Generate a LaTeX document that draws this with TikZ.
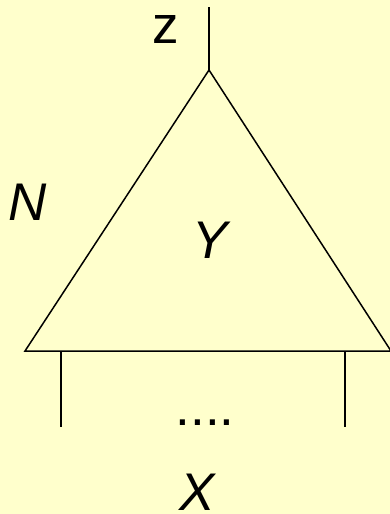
\documentclass[tikz,border=0pt]{standalone}
\usepackage{fontspec}
\setmainfont{Liberation Sans}
\usetikzlibrary{positioning}

\begin{document}
\begin{tikzpicture}[
    x=1pt, y=-1pt,
    edge/.style={line width=1.5pt, black},
    label/.style={anchor=base, inner sep=0pt, font=\fontsize{53}{60}\selectfont}
]

    \fill[yellow!25!white, fill={rgb,255:red,255; green,255; blue,204}] (0,0) rectangle (390,514);
    \useasboundingbox (0,0) rectangle (390,514);

    \coordinate (top) at (209,7);
    \coordinate (apex) at (209,70);
    \coordinate (bl) at (25,351);
    \coordinate (br) at (391,351);
    \coordinate (l1) at (61,351);
    \coordinate (l1e) at (61,427);
    \coordinate (l2) at (345,351);
    \coordinate (l2e) at (345,427);

    \draw[edge] (bl) -- (apex) -- (br) -- cycle;
    \draw[edge] (apex) -- (top);
    \draw[edge] (l1) -- (l1e);
    \draw[edge] (l2) -- (l2e);

    \node[label] (z) at (166,43) {z};
    \node[label] (n) at (28,220) {\itshape N};
    \node[label] (y) at (210,258) {\itshape Y};
    \node[label] (dots) at (205,425) {....};
    \node[label] (x) at (197,510) {\itshape X};

\end{tikzpicture}
\end{document}
